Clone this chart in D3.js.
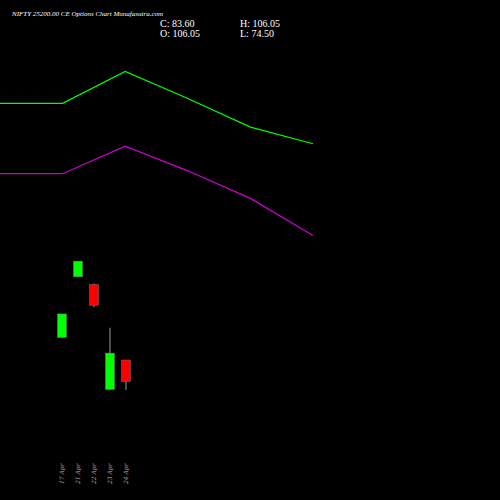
<!DOCTYPE html>
<html><head><meta charset="utf-8">
<script src="https://cdn.jsdelivr.net/npm/d3@7"></script>
<style>body{margin:0;background:#000}svg{display:block}</style>
</head><body><div id="c"></div>
<script>
const dates = ["17 Apr", "21 Apr", "22 Apr", "23 Apr", "24 Apr"];
const opens = [129.7, 193.6, 185.4, 75.1, 106.05];
const highs = [154.5, 210.0, 186.4, 140.0, 106.05];
const lows = [129.7, 193.6, 161.6, 75.1, 74.5];
const closes = [154.5, 210.0, 163.7, 113.3, 83.6];
const greenLine = [376.0, 376.0, 409.5, 381.0, 351.0, 333.5];
const purpleLine = [302.0, 302.0, 331.0, 305.0, 276.0, 237.0];

const width = 500, height = 500;
const svg = d3.select("#c").append("svg").attr("width", width).attr("height", height);
svg.append("rect").attr("width", width).attr("height", height).attr("fill", "#000");

const y = d3.scaleLinear().domain([106.05, 74.5]).range([360, 390]);
const x = d3.scalePoint().domain(dates).range([62, 126]);
const xl = d3.scaleLinear().domain([0, 5]).range([0, 313]);

const line = d3.line().x((d, i) => xl(i)).y(d => y(d));
svg.append("path").attr("d", line(greenLine)).attr("fill", "none").attr("stroke", "#00ff00").attr("stroke-width", 1.2);
svg.append("path").attr("d", line(purpleLine)).attr("fill", "none").attr("stroke", "#cc00cc").attr("stroke-width", 1.2);

const data = dates.map((d, i) => ({d, o: opens[i], h: highs[i], l: lows[i], c: closes[i]}));
svg.selectAll("line.w").data(data).join("line")
  .attr("x1", d => x(d.d)).attr("x2", d => x(d.d))
  .attr("y1", d => y(d.h)).attr("y2", d => y(d.l))
  .attr("stroke", "#999").attr("stroke-width", 1);
svg.selectAll("rect.b").data(data).join("rect")
  .attr("x", d => x(d.d) - 4.5).attr("width", 9)
  .attr("y", d => y(Math.max(d.o, d.c)))
  .attr("height", d => Math.abs(y(d.o) - y(d.c)))
  .attr("fill", d => d.c >= d.o ? "#00ff00" : "#ff0000")
  .attr("stroke", "#777").attr("stroke-width", 0.5);

svg.selectAll("text.x").data(dates).join("text")
  .attr("transform", d => `translate(${x(d) + 2},484) rotate(-90)`)
  .attr("fill", "#aaa").attr("font-size", 6).attr("font-family", "DejaVu Serif")
  .attr("font-style", "italic").text(d => d);

const t = svg.append("g").attr("font-family", "Liberation Serif").attr("fill", "#fff");
t.append("text").attr("x", 12).attr("y", 16).attr("font-size", 7).attr("font-style", "italic")
  .text("NIFTY 25200.00 CE Options  Chart Munafasutra.com");
t.append("text").attr("x", 160).attr("y", 27).attr("font-size", 10).text("C: 83.60");
t.append("text").attr("x", 160).attr("y", 37).attr("font-size", 10).text("O: 106.05");
t.append("text").attr("x", 240).attr("y", 27).attr("font-size", 10).text("H: 106.05");
t.append("text").attr("x", 240).attr("y", 37).attr("font-size", 10).text("L: 74.50");
</script></body></html>
